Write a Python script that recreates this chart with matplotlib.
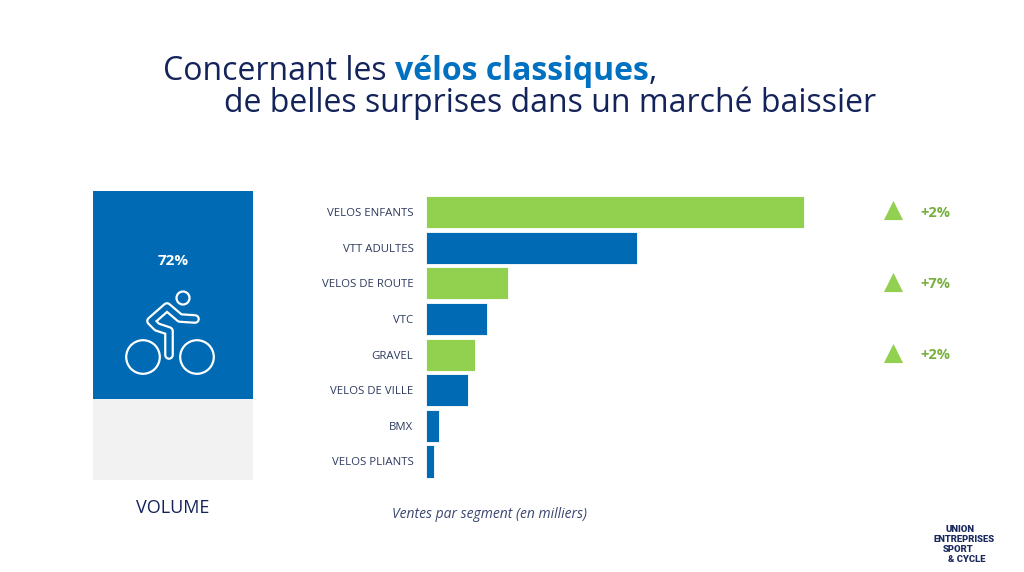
import matplotlib
matplotlib.use('Agg')
import matplotlib.pyplot as plt
from matplotlib.patches import Rectangle, Circle

# données (ventes en milliers, estimées)
segments = ['VELOS ENFANTS', 'VTT ADULTES', 'VELOS DE ROUTE', 'VTC', 'GRAVEL',
            'VELOS DE VILLE', 'BMX', 'VELOS PLIANTS']
ventes = [756, 421, 164, 122, 98, 83, 26, 16]
en_hausse = [True, False, True, False, True, False, False, False]
evolutions = ['+2%', '', '+7%', '', '+2%', '', '', '']
part_volume = 72

BLUE = '#006AB4'
GREEN = '#92D050'
GREEN_TXT = '#78B040'
NAVY = '#14235A'
LABEL = '#2E3A5E'

plt.rcParams['font.family'] = ['Open Sans', 'DejaVu Sans']

W, H = 1024, 572
fig = plt.figure(figsize=(W / 100, H / 100), dpi=100)

# calque de décor en pixels
deco = fig.add_axes([0, 0, 1, 1])
deco.set_xlim(0, W)
deco.set_ylim(H, 0)
deco.axis('off')

# titre
t1 = deco.text(163, 80, 'Concernant les ', fontsize=23, color=NAVY, va='baseline')
t2 = deco.annotate('vélos classiques', xy=(1, 0), xycoords=t1, fontsize=23,
                   color='#0070C0', fontweight='bold', va='bottom')
deco.annotate(',', xy=(1, 0), xycoords=t2, fontsize=23, color=NAVY, va='bottom')
deco.text(224, 112, 'de belles surprises dans un marché baissier', fontsize=23,
          color=NAVY, va='baseline')

# bloc volume
deco.add_patch(Rectangle((93, 191), 160, 289, color='#F2F2F2', lw=0))
deco.add_patch(Rectangle((93, 191), 160, 208 * part_volume / 72, color=BLUE, lw=0))
deco.text(173, 261, f'{part_volume}%', fontsize=11, color='white', fontweight='bold',
          ha='center', va='center')
deco.text(173, 508, 'VOLUME', fontsize=13, color=NAVY, ha='center', va='center')

# pictogramme vélo (contour)
for cx in (143, 197):
    deco.add_patch(Circle((cx, 357), 16.8, fill=False, ec='white', lw=1.6))
deco.add_patch(Circle((183, 298), 6.5, fill=False, ec='white', lw=1.6))
body_x = [195, 180, 167, 151, 157, 169, 169]
body_y = [319, 318, 307, 321, 327, 331, 355]
deco.plot(body_x, body_y, color='white', lw=7.0, solid_capstyle='round',
          solid_joinstyle='round')
deco.plot(body_x, body_y, color=BLUE, lw=3.8, solid_capstyle='round',
          solid_joinstyle='round')

# barres
x0, scale = 426, 0.5
top, bottom = 194.2, 479.3
ax = fig.add_axes([x0 / W, (H - bottom) / H, 420 / W, (bottom - top) / H])
ypos = list(range(len(segments)))
colors = [GREEN if h else BLUE for h in en_hausse]
ax.barh(ypos, ventes, height=0.9, color=colors, edgecolor='white', linewidth=0.6)
ax.set_xlim(0, 420 / scale)
ax.set_ylim(len(segments) - 0.5, -0.5)
ax.set_yticks(ypos)
ax.set_yticklabels(segments, fontsize=8.2, color=LABEL)
ax.tick_params(axis='y', length=0, pad=9)
ax.set_xticks([])
for s in ax.spines.values():
    s.set_visible(False)

for y, ev in zip(ypos, evolutions):
    if ev:
        ax.scatter([(893 - x0) / scale], [y - 0.05], marker='^', s=190, color=GREEN,
                   clip_on=False, lw=0)
        ax.text((920 - x0) / scale, y + 0.02, ev, fontsize=10.5, color=GREEN_TXT,
                fontweight='bold', va='center', ha='left')

deco.text(490, 515, 'Ventes par segment (en milliers)', fontsize=10, style='italic',
          color='#3A4670', ha='center', va='center')

# logo
logo = ['UNION', 'ENTREPRISES', 'SPORT', '& CYCLE']
logo_x = [946, 933, 943, 948]
for i, (txt, lx) in enumerate(zip(logo, logo_x)):
    deco.text(lx, 530 + i * 10, txt, fontsize=6.8, color='#1A2A5E', fontweight='black',
              family=['Roboto', 'DejaVu Sans'], va='center')

fig.savefig('out.png', dpi=100)
